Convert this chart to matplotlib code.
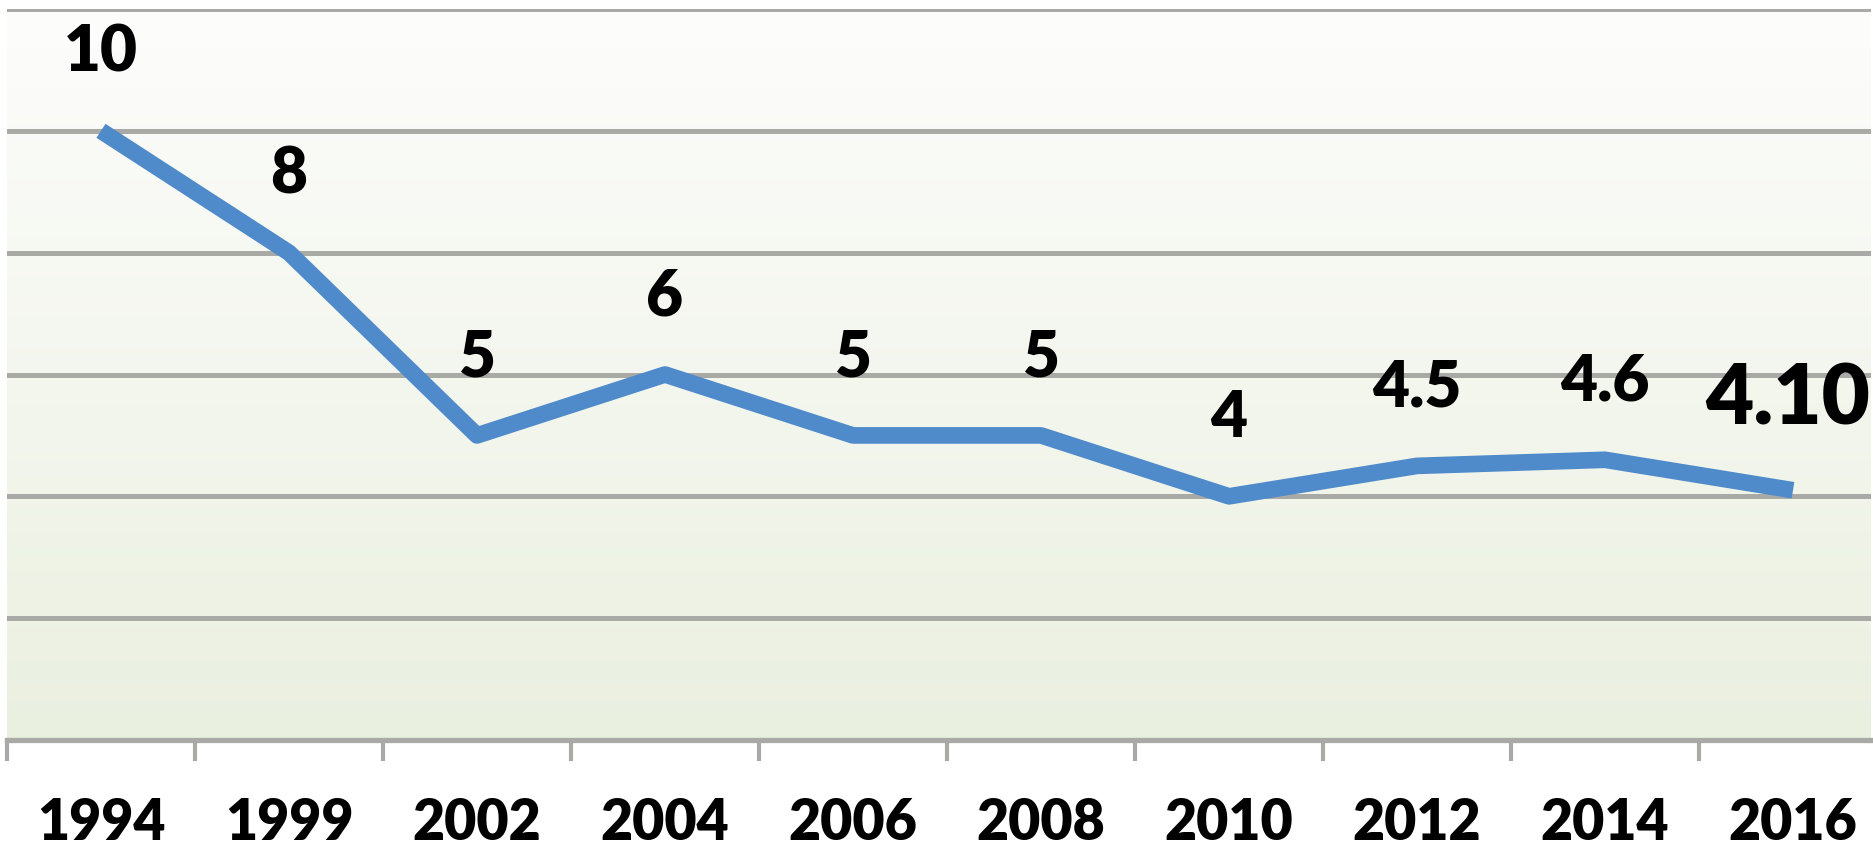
import matplotlib
matplotlib.use("Agg")
import matplotlib.pyplot as plt
import numpy as np
from matplotlib.colors import LinearSegmentedColormap

years = ["1994", "1999", "2002", "2004", "2006", "2008", "2010", "2012", "2014", "2016"]
values = [10, 8, 5, 6, 5, 5, 4, 4.5, 4.6, 4.10]
labels = ["10", "8", "5", "6", "5", "5", "4", "4.5", "4.6", "4.10"]

W, H, DPI = 1874, 850, 100
fig = plt.figure(figsize=(W / DPI, H / DPI), dpi=DPI)
fig.patch.set_facecolor("white")

# axes: left at 7px, bottom axis at 740px, top (12) at 9px, categories 188px wide
cat_w = 188
left_px, right_px = 7, 1871
bottom_px, top_px = 740, 9
ax = fig.add_axes([left_px / W, (H - bottom_px) / H,
                   (right_px - left_px) / W, (bottom_px - top_px) / H])
x = np.arange(len(years))
xlim = (-0.5, -0.5 + (right_px - left_px) / cat_w)

# gradient background
grad = np.linspace(0, 1, 256).reshape(-1, 1)
cmap = LinearSegmentedColormap.from_list("bg", ["#eaf0e0", "#fdfdfc"])
ax.imshow(grad, aspect="auto", cmap=cmap, origin="lower",
          extent=[xlim[0], xlim[1], 0, 12], zorder=0)

grid_color = "#a9aaa5"
for yv in [2, 4, 6, 8, 10, 12]:
    ax.axhline(yv, color=grid_color, lw=3.6, zorder=1)

ax.plot(x, values, color="#4f8aca", lw=12, solid_joinstyle="round",
        solid_capstyle="butt", zorder=3)

for i, (v, lab) in enumerate(zip(values, labels)):
    big = (i == len(values) - 1)
    ax.annotate(lab, (x[i], v), xytext=(-4 if big else 0, 65 if big else 56),
                textcoords="offset points", ha="center", va="center",
                fontsize=60 if big else 46, fontweight="heavy",
                family=["Lato", "DejaVu Sans"], color="black", zorder=4,
                annotation_clip=False)

for s in ["left", "right", "top"]:
    ax.spines[s].set_visible(False)
ax.spines["bottom"].set_color(grid_color)
ax.spines["bottom"].set_linewidth(3.8)

ax.set_yticks([])
ax.set_xticks(x)
ax.set_xticklabels(years, fontsize=40, fontweight="heavy",
                   family=["Lato", "DejaVu Sans"])
ax.tick_params(axis="x", which="major", length=0, pad=41)
ax.set_xticks(np.arange(-0.5, len(years) - 1, 1.0), minor=True)
ax.tick_params(axis="x", which="minor", length=15, width=3, color=grid_color,
               direction="out")
ax.set_xlim(*xlim)
ax.set_ylim(0, 12)

fig.savefig("out.png", dpi=DPI, facecolor="white")
